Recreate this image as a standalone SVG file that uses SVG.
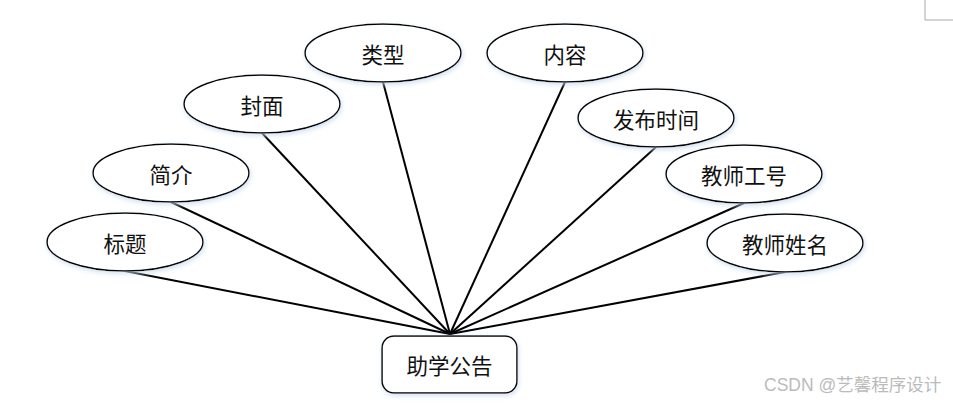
<svg xmlns="http://www.w3.org/2000/svg" width="953" height="403" viewBox="0 0 953 403">
<defs>
<filter id="glow" x="-20%" y="-30%" width="140%" height="160%">
<feGaussianBlur in="SourceAlpha" stdDeviation="2.5"/>
<feOffset dx="1" dy="2" result="b"/>
<feFlood flood-color="#c8d8ee" flood-opacity="0.8"/>
<feComposite in2="b" operator="in"/>
<feMerge><feMergeNode/><feMergeNode in="SourceGraphic"/></feMerge>
</filter>
</defs>
<style>
.n ellipse, .n rect { fill: #fff; stroke: #000; stroke-width: 1.5; filter: url(#glow); }
.n text { font-family: "Noto Sans CJK SC", "DejaVu Sans", sans-serif; font-size: 21.5px; fill: #111; text-anchor: middle; dominant-baseline: central; }
#edges line { stroke: #000; stroke-width: 2; }
.wm { font-family: "Liberation Sans", "Noto Sans CJK SC", sans-serif; font-size: 17.5px; fill: #bbb; }
</style>
<rect width="953" height="403" fill="#fff"/>
<path d="M925 0 V20 H953" fill="none" stroke="#aaa" stroke-width="1"/>
<g id="edges">
<line x1="450" y1="334" x2="125" y2="271"/>
<line x1="450" y1="334" x2="171" y2="202"/>
<line x1="450" y1="334" x2="262" y2="133"/>
<line x1="450" y1="334" x2="383" y2="82"/>
<line x1="450" y1="334" x2="565" y2="82"/>
<line x1="450" y1="334" x2="656" y2="147"/>
<line x1="450" y1="334" x2="744" y2="203"/>
<line x1="450" y1="334" x2="785" y2="272"/>
</g>
<g id="n-biaoti" class="n"><ellipse cx="125" cy="242" rx="78" ry="29"/><text x="125" y="242">标题</text></g>
<g id="n-jianjie" class="n"><ellipse cx="171" cy="173" rx="78" ry="29"/><text x="171" y="173">简介</text></g>
<g id="n-fengmian" class="n"><ellipse cx="262" cy="104" rx="78" ry="29"/><text x="262" y="104">封面</text></g>
<g id="n-leixing" class="n"><ellipse cx="383" cy="53" rx="78" ry="29"/><text x="383" y="53">类型</text></g>
<g id="n-neirong" class="n"><ellipse cx="565" cy="53" rx="78" ry="29"/><text x="565" y="53">内容</text></g>
<g id="n-fabushijian" class="n"><ellipse cx="656" cy="118" rx="78" ry="29"/><text x="656" y="118">发布时间</text></g>
<g id="n-jiaoshigonghao" class="n"><ellipse cx="744" cy="174" rx="78" ry="29"/><text x="744" y="174">教师工号</text></g>
<g id="n-jiaoshixingming" class="n"><ellipse cx="785" cy="243" rx="78" ry="29"/><text x="785" y="243">教师姓名</text></g>
<g id="n-zhuxuegonggao" class="n"><rect x="382" y="336" width="135" height="57" rx="12"/><text x="449.5" y="364">助学公告</text></g>
<text class="wm" x="764" y="391">CSDN @艺馨程序设计</text>
</svg>
